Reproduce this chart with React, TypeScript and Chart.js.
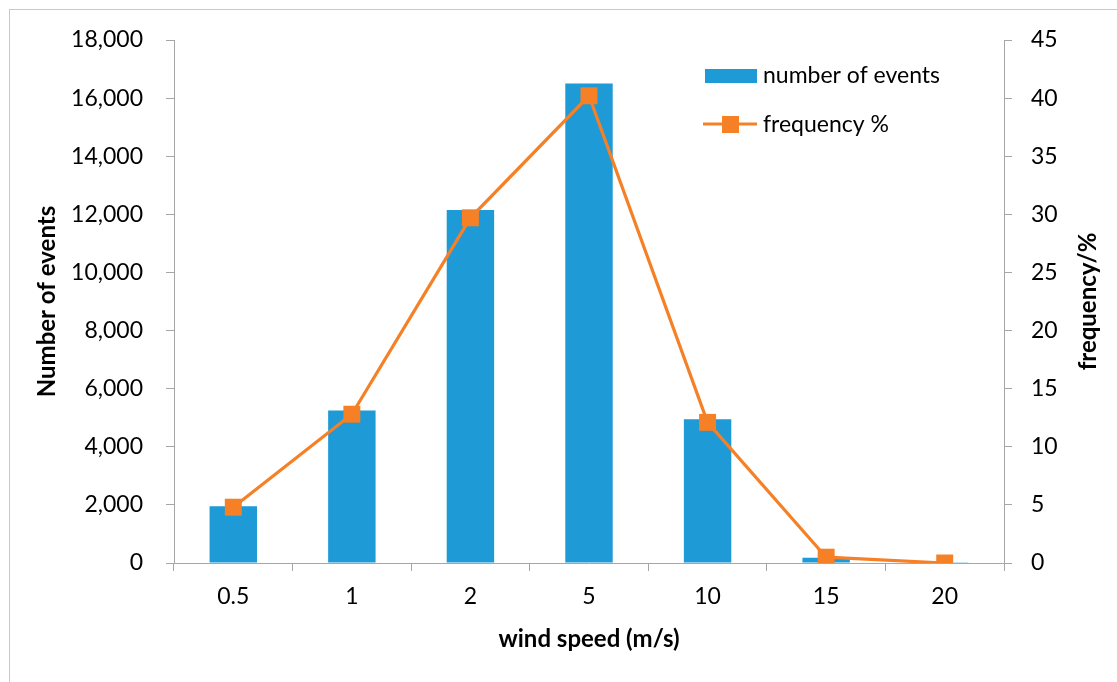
import React, { useEffect, useRef } from "react";
import { Chart, registerables } from "chart.js";

Chart.register(...registerables);

const windSpeeds = ["0.5", "1", "2", "5", "10", "15", "20"];
const numberOfEvents = [1950, 5250, 12150, 16500, 4950, 180, 8];
const frequencyPct = [4.8, 12.8, 29.7, 40.2, 12.1, 0.5, 0.0];

const BLUE = "#1E9AD6";
const ORANGE = "#F58026";
const AXIS = "#a6a6a6";
const FONT = "Lato, 'Open Sans', sans-serif";
const TICK_SIZE = 23;
const TITLE_SIZE = 24;

const extrasPlugin = {
  id: "extras",
  afterDraw(chart: any) {
    const ctx = chart.ctx;
    const area = chart.chartArea;
    ctx.save();
    // right axis title (reads bottom to top)
    ctx.font = `bold ${TITLE_SIZE}px ${FONT}`;
    ctx.fillStyle = "#000";
    ctx.textAlign = "center";
    ctx.textBaseline = "middle";
    ctx.translate(1088, (area.top + area.bottom) / 2);
    ctx.rotate(-Math.PI / 2);
    ctx.fillText("frequency/%", 0, 0);
    ctx.restore();

    // legend
    ctx.save();
    ctx.fillStyle = BLUE;
    ctx.fillRect(705, 69, 52, 14);
    ctx.strokeStyle = ORANGE;
    ctx.lineWidth = 3;
    ctx.beginPath();
    ctx.moveTo(703, 124);
    ctx.lineTo(757, 124);
    ctx.stroke();
    ctx.fillStyle = ORANGE;
    ctx.fillRect(722, 116, 17, 17);
    ctx.fillStyle = "#000";
    ctx.font = `${TICK_SIZE}px ${FONT}`;
    ctx.textAlign = "left";
    ctx.textBaseline = "middle";
    ctx.fillText("number of events", 763, 76);
    ctx.fillText("frequency %", 763, 125);
    ctx.restore();
  },
};

export default function App() {
  const ref = useRef<HTMLCanvasElement | null>(null);

  useEffect(() => {
    if (!ref.current) return;
    const chart = new Chart(ref.current, {
      type: "bar",
      data: {
        labels: windSpeeds,
        datasets: [
          {
            type: "line",
            label: "frequency %",
            data: frequencyPct,
            yAxisID: "y1",
            borderColor: ORANGE,
            backgroundColor: ORANGE,
            borderWidth: 3.2,
            pointStyle: "rect",
            pointRadius: 12,
            pointBackgroundColor: ORANGE,
            pointBorderColor: ORANGE,
            pointBorderWidth: 0,
            tension: 0,
            order: 0,
          } as any,
          {
            type: "bar",
            label: "number of events",
            data: numberOfEvents,
            yAxisID: "y",
            backgroundColor: BLUE,
            categoryPercentage: 1,
            barPercentage: 0.4,
            order: 1,
          } as any,
        ],
      },
      options: {
        responsive: false,
        animation: false,
        layout: { padding: { top: 40, left: 0, right: 0, bottom: 0 } },
        plugins: { legend: { display: false }, tooltip: { enabled: false } },
        scales: {
          x: {
            offset: true,
            grid: {
              display: true,
              drawOnChartArea: false,
              drawTicks: true,
              tickLength: 8,
              color: AXIS,
              offset: true,
            },
            border: { display: true, color: AXIS, width: 1 },
            ticks: { color: "#000", font: { family: FONT, size: TICK_SIZE }, padding: 12 },
            title: {
              display: true,
              text: "wind speed (m/s)",
              color: "#000",
              font: { family: FONT, size: TITLE_SIZE, weight: "bold" },
              padding: { top: 0, bottom: 28 },
            },
            afterFit: (scale: any) => {
              scale.height = 119;
            },
          },
          y: {
            position: "left",
            min: 0,
            max: 18000,
            ticks: {
              stepSize: 2000,
              color: "#000",
              font: { family: FONT, size: TICK_SIZE },
              padding: 23,
              callback: (v: any) => Number(v).toLocaleString("en-US"),
            },
            grid: {
              display: true,
              drawOnChartArea: false,
              drawTicks: true,
              tickLength: 8,
              color: AXIS,
            },
            border: { display: true, color: AXIS, width: 1 },
            title: {
              display: true,
              text: "Number of events",
              color: "#000",
              font: { family: FONT, size: TITLE_SIZE, weight: "bold" },
              padding: { top: 33, bottom: 0 },
            },
            afterFit: (scale: any) => {
              scale.width = 174;
            },
          },
          y1: {
            position: "right",
            min: 0,
            max: 45,
            ticks: {
              stepSize: 5,
              color: "#000",
              font: { family: FONT, size: TICK_SIZE },
              padding: 19,
            },
            grid: {
              display: true,
              drawOnChartArea: false,
              drawTicks: true,
              tickLength: 8,
              color: AXIS,
            },
            border: { display: true, color: AXIS, width: 1 },
            title: { display: false },
            afterFit: (scale: any) => {
              scale.width = 113;
            },
          },
        },
      } as any,
      plugins: [extrasPlugin],
    });
    return () => chart.destroy();
  }, []);

  return (
    <div style={{ position: "fixed", inset: 0, overflow: "hidden", background: "#fff" }}>
      <div
        style={{
          position: "absolute",
          left: 9,
          top: 9,
          width: 1300,
          height: 900,
          border: "1px solid #c9c9c9",
        }}
      />
      <canvas
        ref={ref}
        width={1117}
        height={682}
        style={{ position: "absolute", left: 0, top: 0, width: 1117, height: 682 }}
      />
    </div>
  );
}
